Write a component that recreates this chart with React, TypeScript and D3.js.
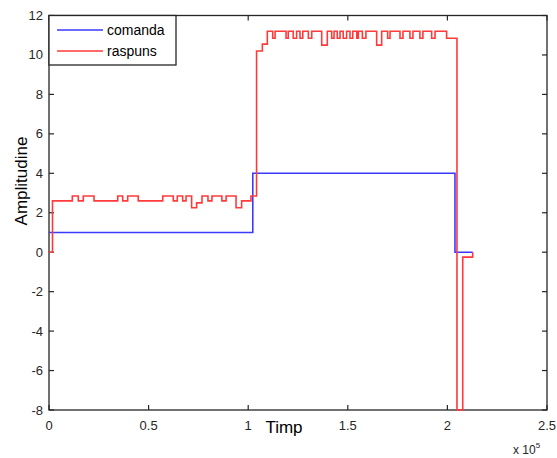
import React from "react";
import * as d3 from "d3";

// Step signals: each value holds from its time until the next time.
const comandaTimes = [0, 102300, 203800, 212700];
const comandaValues = [1, 4, 0, 0];

const raspunsTimes = [
  0, 1760, 11700, 14700, 17200, 22600, 34500, 37000, 39500, 44800,
  57100, 62400, 64400, 67100, 68800, 71600, 74100, 76800, 79800, 81800,
  86800, 88900, 93900, 96700, 101400, 104200, 107100, 109600, 112300, 113500,
  119000, 120100, 122600, 124300, 126000, 127400, 130200, 131900, 136900, 139700,
  141900, 143100, 144700, 146100, 147700, 149400, 151100, 152500, 154500, 155300,
  157300, 159100, 164500, 167000, 170000, 171200, 176200, 177700, 181200, 182700,
  186200, 187700, 192100, 193800, 199600, 204800, 207700, 212700,
];
const raspunsValues = [
  0, 2.6, 2.85, 2.6, 2.85, 2.6, 2.85, 2.6, 2.85, 2.6,
  2.85, 2.6, 2.85, 2.6, 2.85, 2.25, 2.5, 2.85, 2.6, 2.85,
  2.6, 2.85, 2.25, 2.6, 2.85, 10.2, 10.55, 11.2, 10.85, 11.2,
  10.85, 11.2, 10.85, 11.2, 10.85, 11.2, 10.85, 11.2, 10.5, 11.2,
  10.85, 11.2, 10.85, 11.2, 10.85, 11.2, 10.85, 11.2, 10.85, 11.2,
  10.85, 11.2, 10.5, 11.2, 10.85, 11.2, 10.85, 11.2, 10.85, 11.2,
  10.85, 11.2, 10.85, 11.2, 10.85, -8, -0.25, 0,
];

const xTicks = [0, 50000, 100000, 150000, 200000, 250000];
const xTickLabels = ["0", "0.5", "1", "1.5", "2", "2.5"];
const yTicks = [-8, -6, -4, -2, 0, 2, 4, 6, 8, 10, 12];

const seriesNames = ["comanda", "raspuns"];
const seriesColors = ["#3a3aff", "#ff3a3a"];

const W = 557;
const H = 458;
const left = 49;
const right = 547;
const top = 15.5;
const bottom = 410;

export default function App() {
  const x = d3.scaleLinear().domain([0, 250000]).range([left, right]);
  const y = d3.scaleLinear().domain([-8, 12]).range([bottom, top]);

  const line = d3
    .line<[number, number]>()
    .x((d) => x(d[0]))
    .y((d) => y(d[1]))
    .curve(d3.curveStepAfter);

  const comanda = line(comandaTimes.map((t, i) => [t, comandaValues[i]]));
  const raspuns = line(raspunsTimes.map((t, i) => [t, raspunsValues[i]]));

  const axisColor = "#262626";
  const font = "Arial, 'Liberation Sans', sans-serif";
  const tickLen = 5;

  return (
    <svg
      width={W}
      height={H}
      style={{ position: "absolute", left: 0, top: 0, background: "#fff" }}
      fontFamily={font}
    >
      <defs>
        <clipPath id="plotClip">
          <rect x={left - 1} y={top - 1} width={right - left + 2} height={bottom - top + 2} />
        </clipPath>
      </defs>
      <rect x={0} y={0} width={W} height={H} fill="#fff" />

      {/* frame */}
      <rect
        x={left}
        y={top}
        width={right - left}
        height={bottom - top}
        fill="none"
        stroke={axisColor}
        strokeWidth={1.3}
      />

      {/* x ticks, inward on bottom and top */}
      {xTicks.map((t, i) => (
        <g key={"x" + i}>
          <line x1={x(t)} x2={x(t)} y1={bottom} y2={bottom - tickLen} stroke={axisColor} strokeWidth={1.2} />
          <line x1={x(t)} x2={x(t)} y1={top} y2={top + tickLen} stroke={axisColor} strokeWidth={1.2} />
          <text x={x(t)} y={430} textAnchor="middle" fontSize={13} fill={axisColor}>
            {xTickLabels[i]}
          </text>
        </g>
      ))}

      {/* y ticks, inward on left and right */}
      {yTicks.map((v) => (
        <g key={"y" + v}>
          <line x1={left} x2={left + tickLen} y1={y(v)} y2={y(v)} stroke={axisColor} strokeWidth={1.2} />
          <line x1={right} x2={right - tickLen} y1={y(v)} y2={y(v)} stroke={axisColor} strokeWidth={1.2} />
          <text x={43} y={y(v) + 4.5} textAnchor="end" fontSize={13} fill={axisColor}>
            {v}
          </text>
        </g>
      ))}

      {/* signals */}
      <g clipPath="url(#plotClip)" fill="none" strokeWidth={1.6}>
        <path d={comanda ?? ""} stroke={seriesColors[0]} />
        <path d={raspuns ?? ""} stroke={seriesColors[1]} />
      </g>

      {/* axis labels */}
      <text x={284} y={433} textAnchor="middle" fontSize={17} fill="#000">
        Timp
      </text>
      <text
        transform={`translate(27, 181) rotate(-90)`}
        textAnchor="middle"
        fontSize={17}
        fill="#000"
      >
        Amplitudine
      </text>
      <text x={513} y={454} fontSize={12} fill={axisColor}>
        x 10
        <tspan dy={-6} fontSize={8}>
          5
        </tspan>
      </text>

      {/* legend */}
      <g>
        <rect x={left} y={top} width={127} height={49.5} fill="#fff" stroke={axisColor} strokeWidth={1.3} />
        {seriesNames.map((name, i) => (
          <g key={name}>
            <line
              x1={57}
              x2={103}
              y1={30 + i * 21}
              y2={30 + i * 21}
              stroke={seriesColors[i]}
              strokeWidth={1.6}
            />
            <text x={107} y={35 + i * 21} fontSize={14} fill="#000">
              {name}
            </text>
          </g>
        ))}
      </g>
    </svg>
  );
}
